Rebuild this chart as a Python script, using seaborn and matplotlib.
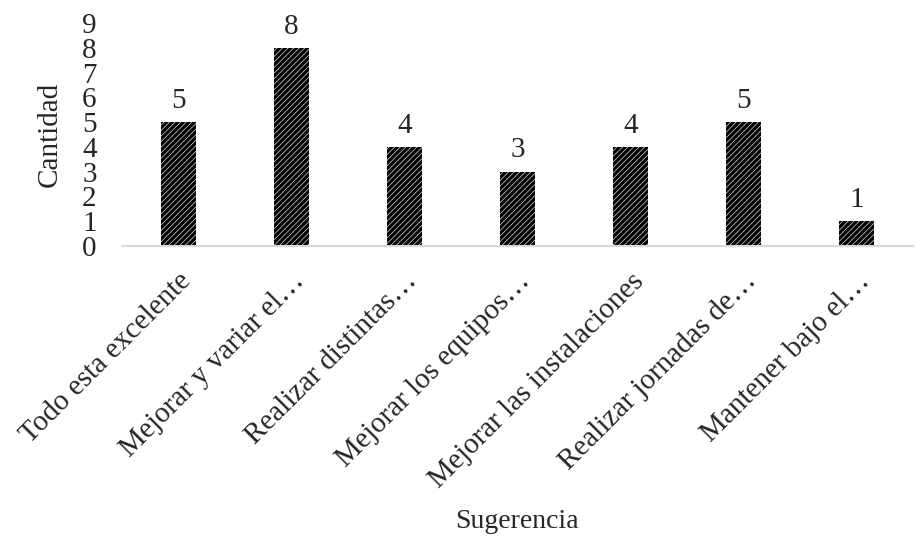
import matplotlib
matplotlib.use("Agg")
import matplotlib.pyplot as plt
import seaborn as sns
import pandas as pd

categorias = ["Todo esta excelente", "Mejorar y variar el…", "Realizar distintas…",
              "Mejorar los equipos…", "Mejorar las instalaciones", "Realizar jornadas de…",
              "Mantener bajo el…"]
cantidad = [5, 8, 4, 3, 4, 5, 1]

df = pd.DataFrame({"Sugerencia": categorias, "Cantidad": cantidad})

sns.set_style("white")
plt.rcParams['font.family'] = ['Liberation Serif', 'DejaVu Serif']
plt.rcParams['hatch.linewidth'] = 2.4
plt.rcParams['hatch.color'] = 'black'

fs = 21
fig = plt.figure(figsize=(9.15, 5.37), dpi=100)
ax = fig.add_axes([0.133, 0.542, 0.865, 0.415])

sns.barplot(data=df, x="Sugerencia", y="Cantidad", color="white", width=0.31,
            edgecolor="black", linewidth=0, ax=ax)
for p in ax.patches:
    p.set_hatch("//////")

ax.bar_label(ax.containers[0], fontsize=fs, padding=6)

ax.set_ylim(0, 9)
ax.set_yticks(range(0, 10))
ax.tick_params(axis='y', labelsize=fs, length=0, pad=18)
ax.tick_params(axis='x', labelsize=fs, length=0, pad=16)
plt.setp(ax.get_xticklabels(), rotation=45, ha='right', rotation_mode='anchor')

for s in ['top', 'right', 'left']:
    ax.spines[s].set_visible(False)
ax.spines['bottom'].set_color('#d9d9d9')
ax.spines['bottom'].set_linewidth(1.5)

ax.set_ylabel("Cantidad", fontsize=fs, labelpad=14)
ax.set_xlabel("Sugerencia", fontsize=20)
ax.xaxis.set_label_coords(0.5, -1.18)

plt.savefig("out.png", dpi=100)
